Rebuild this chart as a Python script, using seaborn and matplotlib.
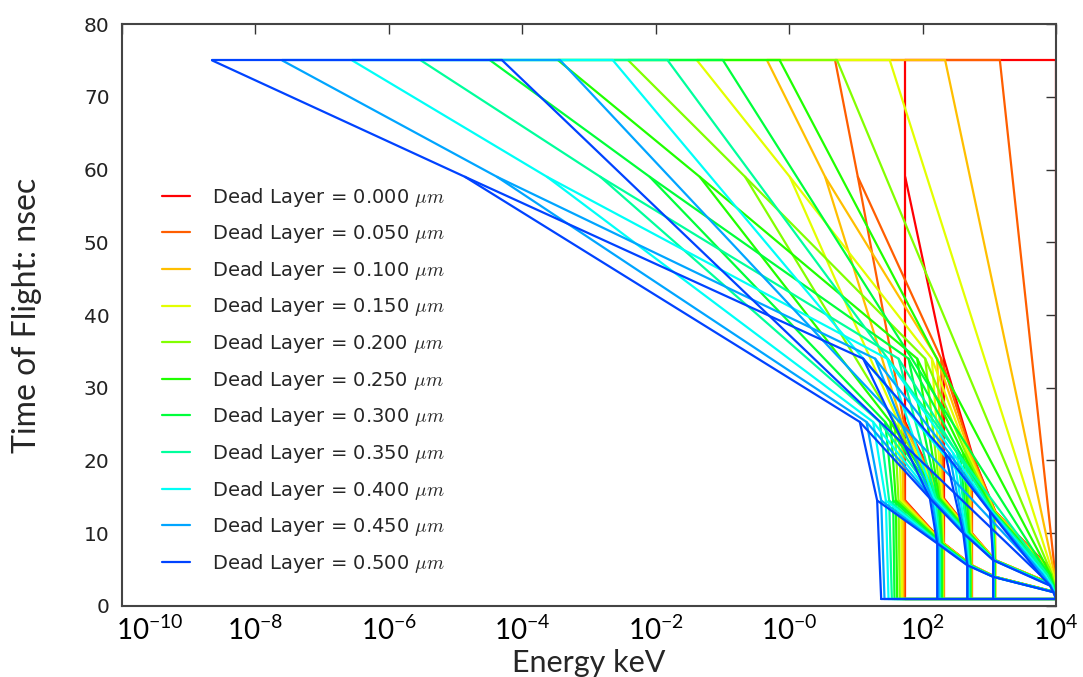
import numpy as np
import pandas as pd
import matplotlib
matplotlib.use("Agg")
import matplotlib.pyplot as plt
import matplotlib.transforms as mtransforms
from matplotlib.lines import Line2D
from matplotlib.ticker import FixedLocator, FixedFormatter, NullLocator
import seaborn as sns

# Dead-layer thicknesses (um), one curve family per value
dead_layer_um = [0.000, 0.050, 0.100, 0.150, 0.200, 0.250, 0.300, 0.350, 0.400, 0.450, 0.500]

# Time of flight (ns) at each node; columns are the incident-energy steps
tof_top = [75.0, 75.0]                 # heaviest group, first and last energy (clamped)
tof_b = [59.0, 34.0, 21.0, 13.0, 4.3]
tof_c = [25.3, 14.8, 10.0, 6.3, 2.8]
tof_d = [14.5, 8.6, 5.6, 4.0, 1.9]
tof_e = [1.0, 1.0, 1.0, 1.0, 1.0]

# Detected energy, log10(keV); one row per dead-layer thickness
log_e_top = [
    [1.74, 4.00], [0.69, 3.16], [-0.33, 2.34], [-1.38, 1.51], [-2.41, 0.72],
    [-3.46, -0.14], [-4.48, -0.99], [-5.52, -1.82], [-6.55, -2.64], [-7.60, -3.43],
    [-8.65, -4.30],
]
log_e_b = [
    [1.74, 2.32, 2.74, 3.09, 4.00], [1.03, 2.28, 2.73, 3.09, 3.99],
    [0.54, 2.22, 2.71, 3.08, 3.98], [0.01, 2.14, 2.68, 3.08, 3.96],
    [-0.66, 2.04, 2.65, 3.07, 3.94], [-1.34, 1.92, 2.61, 3.06, 3.92],
    [-2.09, 1.79, 2.56, 3.05, 3.89], [-2.83, 1.64, 2.52, 3.05, 3.87],
    [-3.63, 1.47, 2.46, 3.03, 3.83], [-4.38, 1.29, 2.40, 3.02, 3.80],
    [-4.86, 1.11, 2.34, 3.01, 3.76],
]
log_e_c = [
    [1.74, 2.32, 2.74, 3.09, 4.00], [1.72, 2.31, 2.74, 3.09, 4.00],
    [1.69, 2.30, 2.73, 3.09, 3.99], [1.64, 2.29, 2.72, 3.09, 3.99],
    [1.58, 2.27, 2.71, 3.08, 3.98], [1.52, 2.25, 2.70, 3.08, 3.97],
    [1.44, 2.23, 2.68, 3.08, 3.96], [1.36, 2.20, 2.67, 3.07, 3.95],
    [1.26, 2.17, 2.65, 3.07, 3.94], [1.16, 2.14, 2.63, 3.06, 3.92],
    [1.06, 2.11, 2.61, 3.06, 3.91],
]
log_e_d = [
    [1.74, 2.32, 2.74, 3.09, 4.00], [1.73, 2.32, 2.74, 3.09, 4.00],
    [1.71, 2.31, 2.73, 3.09, 4.00], [1.68, 2.31, 2.73, 3.09, 3.99],
    [1.64, 2.30, 2.72, 3.08, 3.99], [1.60, 2.29, 2.72, 3.08, 3.99],
    [1.56, 2.28, 2.71, 3.08, 3.98], [1.50, 2.26, 2.70, 3.07, 3.98],
    [1.45, 2.25, 2.69, 3.07, 3.97], [1.38, 2.24, 2.68, 3.06, 3.97],
    [1.32, 2.22, 2.67, 3.06, 3.96],
]
log_e_e = [
    [1.74, 2.32, 2.74, 3.09, 4.00], [1.73, 2.32, 2.74, 3.09, 4.00],
    [1.71, 2.31, 2.73, 3.09, 4.00], [1.69, 2.31, 2.73, 3.09, 4.00],
    [1.66, 2.30, 2.72, 3.08, 4.00], [1.62, 2.29, 2.72, 3.08, 4.00],
    [1.58, 2.28, 2.71, 3.08, 4.00], [1.54, 2.26, 2.70, 3.07, 4.00],
    [1.49, 2.25, 2.69, 3.07, 4.00], [1.43, 2.24, 2.68, 3.06, 4.00],
    [1.38, 2.22, 2.67, 3.06, 4.00],
]

x_tick_exp = [-10, -8, -6, -4, -2, 0, 2, 4]
x_tick_text = ["-10", "-8", "-6", "-4", "-2", "-0", "2", "4"]
y_ticks = [0, 10, 20, 30, 40, 50, 60, 70, 80]

labels = [f"Dead Layer = {d:.3f} $\\mu m$" for d in dead_layer_um]

# Build the mesh: rows of constant particle group and columns of constant energy
records = []
path_id = 0


def add_path(label, logs, tofs):
    global path_id
    for order, (lg, t) in enumerate(zip(logs, tofs)):
        records.append({"label": label, "path": path_id, "order": order,
                        "energy": 10.0 ** lg, "tof": t})
    path_id += 1


for i, lab in enumerate(labels):
    top, b, c, d, e = log_e_top[i], log_e_b[i], log_e_c[i], log_e_d[i], log_e_e[i]
    add_path(lab, top, tof_top)
    add_path(lab, b, tof_b)
    add_path(lab, c, tof_c)
    add_path(lab, d, tof_d)
    add_path(lab, e, tof_e)
    add_path(lab, [top[0], b[0], c[0], d[0], e[0]],
             [tof_top[0], tof_b[0], tof_c[0], tof_d[0], tof_e[0]])
    for j in (1, 2, 3):
        add_path(lab, [b[j], c[j], d[j], e[j]], [tof_b[j], tof_c[j], tof_d[j], tof_e[j]])
    add_path(lab, [top[1], b[4], c[4], d[4], e[4]],
             [tof_top[1], tof_b[4], tof_c[4], tof_d[4], tof_e[4]])

df = pd.DataFrame(records)

sns.set_style("white")
plt.rcParams["mathtext.fontset"] = "cm"
plt.rcParams["font.family"] = ["DejaVu Sans"]

colors = [matplotlib.colormaps["gist_rainbow"](t) for t in np.linspace(0.03, 0.72, len(labels))]
palette = dict(zip(labels, colors))

fig = plt.figure(figsize=(10.83, 6.77), dpi=100)
ax = fig.add_axes([0.1127, 0.1049, 0.8623, 0.8596])
ax.set_xscale("log")

sns.lineplot(data=df, x="energy", y="tof", hue="label", hue_order=labels,
             units="path", estimator=None, sort=False, palette=palette,
             linewidth=1.6, legend=False, ax=ax)

ax.set_xlim(1e-10, 1e4)
ax.set_ylim(0, 80)

ax.xaxis.set_major_locator(FixedLocator([10.0 ** p for p in x_tick_exp]))
ax.xaxis.set_major_formatter(FixedFormatter(
    [f"$\\mathregular{{10^{{{t}}}}}$" for t in x_tick_text]))
ax.xaxis.set_minor_locator(NullLocator())
ax.set_yticks(y_ticks)
ax.set_yticklabels([str(v) for v in y_ticks])

ax.tick_params(axis="both", which="major", direction="in", length=7, width=1,
               top=True, right=True, colors="#333333")
ax.tick_params(axis="y", labelsize=14.5, pad=9)
ax.tick_params(axis="x", labelsize=20, pad=7)
xlabels = ax.get_xticklabels()
for lbl in xlabels:
    lbl.set_fontfamily("Lato")
    lbl.set_color("black")
# nudge the leftmost label clear of the y-axis corner
xlabels[0].set_transform(xlabels[0].get_transform()
                         + mtransforms.ScaledTranslation(0.28, 0, fig.dpi_scale_trans))
for lbl in ax.get_yticklabels():
    lbl.set_color("#222222")
for sp in ax.spines.values():
    sp.set_color("#444444")
    sp.set_linewidth(1.5)

ax.set_xlabel("Energy keV", fontsize=22, fontfamily="Lato", labelpad=3)
ax.set_ylabel("Time of Flight: nsec", fontsize=23, fontfamily="Lato", labelpad=30)

handles = [Line2D([], [], color=col, linewidth=1.6) for col in colors]
ax.legend(handles, labels, loc="center left", bbox_to_anchor=(0.043, 0.388),
          frameon=False, borderpad=0, borderaxespad=0, handlelength=1.44,
          handletextpad=1.13, labelspacing=0.7, fontsize=14)

fig.savefig("out.png", dpi=100)
